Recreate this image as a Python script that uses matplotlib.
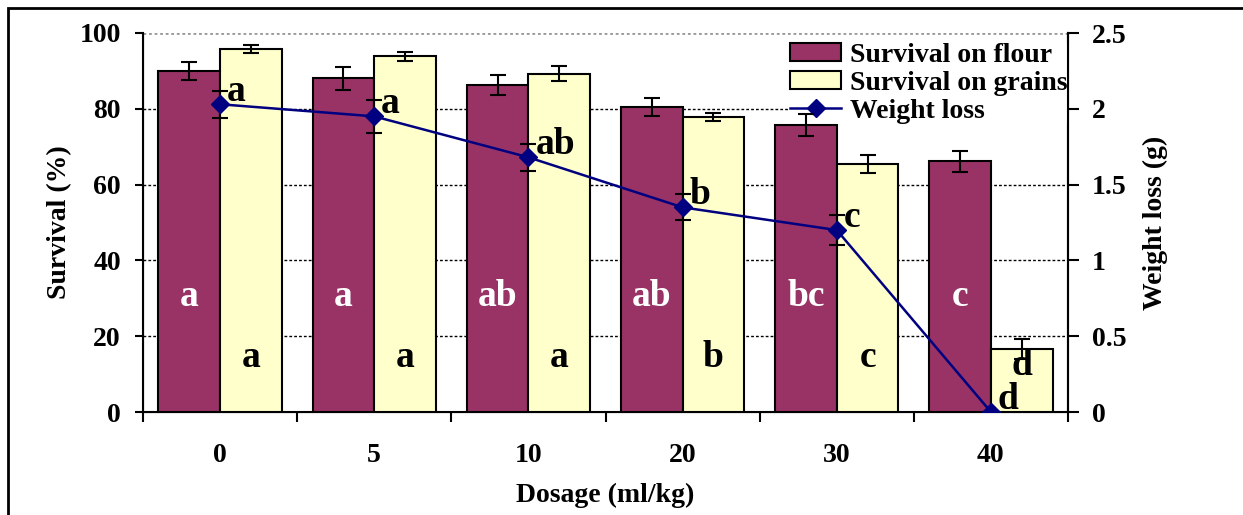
import numpy as np
import matplotlib
matplotlib.use('Agg')
import matplotlib.pyplot as plt
from matplotlib.patches import Rectangle

plt.rcParams['font.family'] = 'Liberation Serif'
plt.rcParams['font.weight'] = 'bold'
plt.rcParams['axes.labelweight'] = 'bold'
plt.rcParams['font.size'] = 20

# data
dosages = ['0', '5', '10', '20', '30', '40']
flour = [90.0, 88.0, 86.3, 80.4, 75.7, 66.1]
flour_err = [2.3, 3.0, 2.6, 2.4, 2.9, 2.7]
grains = [95.8, 93.8, 89.3, 77.8, 65.5, 16.6]
grains_err = [1.0, 1.3, 1.9, 1.1, 2.4, 2.7]
weight_loss = [2.03, 1.95, 1.68, 1.35, 1.20, 0.0]
weight_err = [0.09, 0.11, 0.09, 0.085, 0.10, 0.0]
flour_letters = ['a', 'a', 'ab', 'ab', 'bc', 'c']
grain_letters = ['a', 'a', 'a', 'b', 'c', 'd']
weight_letters = ['a', 'a', 'ab', 'b', 'c', 'd']

FLOUR = '#993366'
GRAIN = '#FFFFCC'
NAVY = '#000080'

fig = plt.figure(figsize=(12.43, 5.15), dpi=100)
ax = fig.add_axes([143 / 1243, 1 - 412 / 515, 925 / 1243, 379 / 515])
ax2 = ax.twinx()

x = np.arange(len(dosages))
w = 0.4
ekw = dict(ecolor='black', elinewidth=1.5, capsize=5.5, capthick=1.5, zorder=4)
b1 = ax.bar(x - w / 2, flour, w, yerr=flour_err, color=FLOUR, edgecolor='black',
            linewidth=1.5, label='Survival on flour', error_kw=ekw, zorder=3)
b2 = ax.bar(x + w / 2, grains, w, yerr=grains_err, color=GRAIN, edgecolor='black',
            linewidth=1.5, label='Survival on grains', error_kw=ekw, zorder=3)

# letters inside the bars
for i in range(len(dosages)):
    ax.text(x[i] - w / 2, 30.6, flour_letters[i], color='white', fontsize=27,
            ha='center', va='center', zorder=5)
    ax.text(x[i] + w / 2, min(14.5, grains[i] - 4.2), grain_letters[i], color='black',
            fontsize=27, ha='center', va='center', zorder=5)

ax.set_xlim(-0.5, len(dosages) - 0.5)
ax.set_ylim(0, 100)
ax.set_yticks(range(0, 101, 20))
ax.set_xticks(np.arange(-0.5, len(dosages), 1.0))
ax.set_xticklabels([])
ax.set_xticks(x, minor=True)
ax.set_xticklabels(dosages, minor=True)
ax.tick_params(axis='x', which='major', length=7, width=1.5, direction='out')
ax.tick_params(axis='x', which='minor', length=0, pad=22)
ax.tick_params(axis='y', length=6, width=1.5, pad=10)
ax.set_axisbelow(True)
ax.grid(axis='y', color='black', linestyle=(0, (2, 1.5)), linewidth=1)
gl = ax.get_ygridlines()
gl[0].set_visible(False)
gl[-1].set_color('#999999')
gl[-1].set_linestyle((0, (1, 1)))
gl[-1].set_linewidth(2)

for s in ['left', 'bottom', 'right']:
    ax.spines[s].set_linewidth(1.5)
ax.spines['top'].set_visible(False)
ax2.spines['top'].set_visible(False)
ax2.spines['right'].set_linewidth(1.5)

ax.set_xlabel('Dosage (ml/kg)', va='center')
ax.xaxis.set_label_coords(0.5, (412 - 495) / 379)
ax.set_ylabel('Survival (%)', va='center')
ax.yaxis.set_label_coords((60 - 143) / 925, 0.5)

# weight loss on the right axis
ax2.errorbar(x, weight_loss, yerr=weight_err, fmt='none', ecolor='black',
             elinewidth=1.5, capsize=5.5, capthick=1.5, zorder=4)
ln, = ax2.plot(x, weight_loss, color=NAVY, linewidth=1.8, marker='D',
               markersize=9, markerfacecolor=NAVY, markeredgecolor=NAVY,
               label='Weight loss', zorder=5)
for i in range(len(dosages)):
    ax2.annotate(weight_letters[i], (x[i], weight_loss[i]), xytext=(5, 9),
                 textcoords='offset points', fontsize=27, ha='left', va='center',
                 zorder=6)
ax2.set_ylim(0, 2.5)
ax2.set_yticks(np.arange(0, 2.51, 0.5))
ax2.set_yticklabels(['0', '0.5', '1', '1.5', '2', '2.5'])
ax2.tick_params(axis='y', length=8, width=1.5, pad=9)
ax2.set_ylabel('Weight loss (g)', rotation=90, va='center')
ax2.yaxis.set_label_coords((1155 - 143) / 925, 0.5)

# legend on the bar axes: above the gridlines, below the bars and error bars
leg = ax.legend([b1, b2, ln], ['Survival on flour', 'Survival on grains', 'Weight loss'],
                loc='upper left', bbox_to_anchor=(790 / 1243, 1 - 43 / 515),
                bbox_transform=fig.transFigure, frameon=True, fancybox=False,
                framealpha=1, edgecolor='none', borderpad=0.0, borderaxespad=0,
                labelspacing=0.1, handlelength=1.85, handleheight=0.62,
                handletextpad=0.3, prop={'weight': 'bold', 'size': 20})
leg.set_zorder(2.5)

# outer frame of the figure (left and top edges visible)
fig.patches.append(Rectangle((8 / 1243, -0.1), 1.2, 1.1 - 8 / 515,
                             transform=fig.transFigure, fill=False,
                             edgecolor='black', linewidth=2))

fig.savefig('out.png', dpi=100)
